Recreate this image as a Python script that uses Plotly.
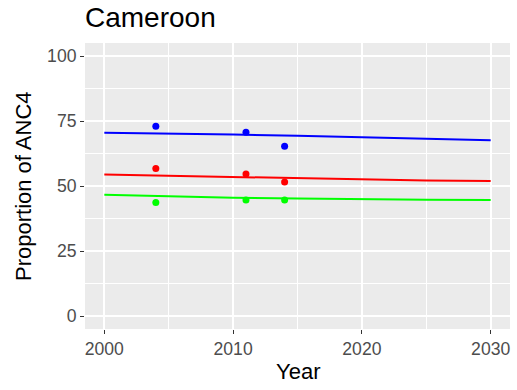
import plotly.graph_objects as go

# Observed survey points
obs_years = [2004, 2011, 2014]
obs_blue = [73.0, 70.7, 65.3]
obs_red = [56.7, 54.6, 51.5]
obs_green = [43.7, 44.6, 44.6]

# Fitted trend lines
fit_years = [2000, 2005, 2010, 2015, 2020, 2025, 2030]
fit_blue = [70.5, 70.2, 69.8, 69.3, 68.7, 68.2, 67.6]
fit_red = [54.4, 53.9, 53.4, 52.9, 52.4, 52.1, 51.9]
fit_green = [46.6, 46.0, 45.5, 45.2, 44.9, 44.7, 44.6]

colors = ["#0000FF", "#FF0000", "#00FF00"]
FONT = "Liberation Sans, Arial, Helvetica"

fig = go.Figure()

for fit, c in zip([fit_blue, fit_red, fit_green], colors):
    fig.add_trace(go.Scatter(x=fit_years, y=fit, mode="lines",
                             line=dict(color=c, width=2), showlegend=False))

for obs, c in zip([obs_blue, obs_red, obs_green], colors):
    fig.add_trace(go.Scatter(x=obs_years, y=obs, mode="markers",
                             marker=dict(color=c, size=7), showlegend=False))

axis_common = dict(
    showgrid=True, gridcolor="white", gridwidth=1.6,
    zeroline=False, showline=False, automargin=False,
    ticks="outside", ticklen=4, tickcolor="#333333", tickwidth=1.1,
    tickfont=dict(family=FONT, size=17.6, color="#4D4D4D"),
)

fig.update_layout(
    width=517, height=390,
    margin=dict(l=85, r=7, t=43, b=61),
    paper_bgcolor="white", plot_bgcolor="#EBEBEB",
    font=dict(family=FONT, color="black"),
    title=dict(text="Cameroon", x=85 / 517, xanchor="left",
               y=1 - 17 / 390, yanchor="middle",
               font=dict(size=28, color="black")),
    xaxis=dict(axis_common, range=[1998.5, 2031.5],
               tickvals=[2000, 2010, 2020, 2030],
               minor=dict(showgrid=True, gridcolor="white", gridwidth=0.8,
                          tickvals=[2005, 2015, 2025], ticks="")),
    yaxis=dict(axis_common, range=[-5, 105],
               tickvals=[0, 25, 50, 75, 100],
               minor=dict(showgrid=True, gridcolor="white", gridwidth=0.8,
                          tickvals=[12.5, 37.5, 62.5, 87.5], ticks="")),
    annotations=[
        dict(text="Year", xref="paper", yref="paper",
             x=0.5, y=-(371 - 329) / 286, xanchor="center", yanchor="middle",
             showarrow=False, font=dict(size=22, color="black")),
        dict(text="Proportion of ANC4", xref="paper", yref="paper",
             x=-(85 - 23) / 425, y=0.5, xanchor="center", yanchor="middle",
             textangle=-90, showarrow=False,
             font=dict(size=22, color="black")),
    ],
)

# drop the default 8px page margin so the figure sits at the window corner
fig.write_html("out.html", config={"displayModeBar": False},
               post_script="document.body.style.margin='0';")
